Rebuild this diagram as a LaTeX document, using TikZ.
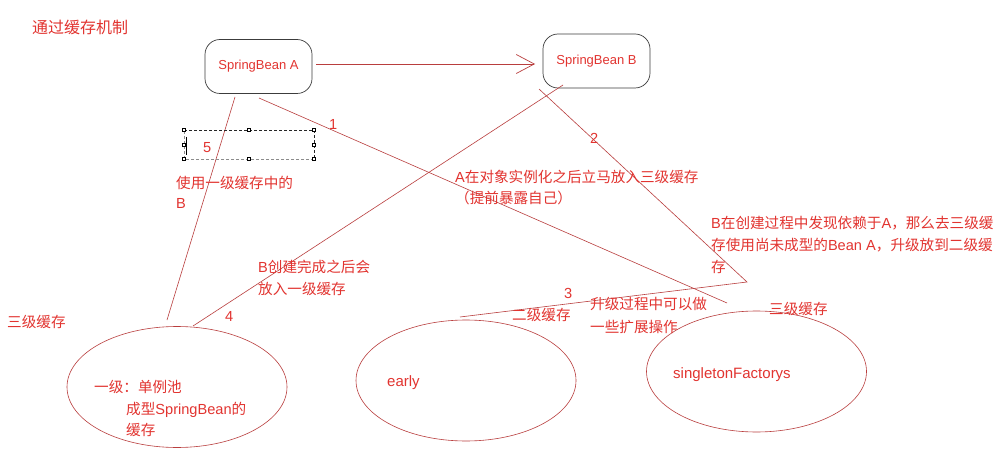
\documentclass[tikz,border=0pt]{standalone}
\usepackage{fontspec}
\setmainfont{Noto Sans CJK SC}
\newfontfamily\lat{Liberation Sans}
\usetikzlibrary{arrows.meta,shapes.geometric}
\definecolor{txt}{RGB}{226,52,48}
\definecolor{ln}{RGB}{185,62,62}
\definecolor{bx}{RGB}{60,60,60}
\begin{document}
\begin{tikzpicture}[x=1pt,y=-1pt,
  lbl/.style={text=txt,font=\fontsize{14.6}{18}\selectfont,anchor=base west,inner sep=0pt},
  num/.style={lbl,font=\lat\fontsize{14.6}{16}\selectfont},
  beanbox/.style={draw=bx,line width=0.7pt,rounded corners=15pt,minimum width=107pt,minimum height=54pt,inner sep=0pt,text=txt,font=\lat\fontsize{13}{15}\selectfont},
  cache/.style={draw=ln,line width=0.6pt,ellipse,minimum width=220pt,minimum height=121pt,inner sep=0pt},
  conn/.style={draw=ln,line width=0.6pt},
  handle/.style={draw=black,fill=white,line width=0.4pt,minimum size=3pt,inner sep=0pt},
  selline/.style={line width=0.5pt,dash pattern=on 3pt off 2pt}
]
\useasboundingbox (0,0) rectangle (1001,465);
\fill[white] (0,0) rectangle (1001,465);

% title
\node[lbl,font=\fontsize{16}{18}\selectfont] (title) at (32,34) {通过缓存机制};

% bean boxes
\node[beanbox] (A) at (258.5,66.5) {SpringBean A};
\node[beanbox] (B) at (596.5,61) {SpringBean B};

% caches
\node[cache] (E1) at (177,387) {};
\node[cache] (E2) at (466,380.5) {};
\node[cache] (E3) at (756.5,371.5) {};

% connector end points
\coordinate (a0) at (316,64);
\coordinate (b0) at (535,64);
\coordinate (a5) at (235,97);
\coordinate (e15) at (167,320);
\coordinate (a1) at (259,98);
\coordinate (e31) at (727,303);
\coordinate (b2) at (539,89);
\coordinate (k2) at (747,282);
\coordinate (e22) at (460,317);
\coordinate (b4) at (563,85);
\coordinate (e14) at (193,326);

% connectors
\draw[conn,-{Straight Barb[length=18pt,width=19pt,line width=0.7pt]}] (a0) -- (b0);
\draw[conn] (a5) -- (e15);
\draw[conn] (a1) -- (e31);
\draw[conn] (b2) -- (k2) -- (e22);
\draw[conn] (b4) -- (e14);

% dashed selection box
\draw[selline,black!85] (184,130) -- (314,130) -- (314,159);
\draw[selline,black!45] (314,159) -- (184,159) -- (184,130);
\foreach \hx/\hy [count=\i] in {184/130,249/130,314/130,184/145,314/145,184/159,249/159,314/159}
  \node[handle] (h\i) at (\hx,\hy) {};
\draw[black,line width=0.8pt] (186.5,137) -- (186.5,155);

% numbers
\node[num] (n1) at (329,130) {1};
\node[num] (n2) at (590,144) {2};
\node[num] (n3) at (564,298) {3};
\node[num] (n4) at (225,321) {4};
\node[num] (n5) at (203,153) {5};

% labels
\node[lbl] (t5a) at (176,189) {使用一级缓存中的};
\node[lbl] (t5b) at (176,208.5) {\lat B};
\node[lbl] (t1a) at (455,183) {{\lat A}在对象实例化之后立马放入三级缓存};
\node[lbl] (t1b) at (455,204) {（提前暴露自己）};
\node[lbl] (t2a) at (711,229) {{\lat B}在创建过程中发现依赖于{\lat A}，那么去三级缓};
\node[lbl] (t2b) at (711,251) {存使用尚未成型的{\lat Bean A}，升级放到二级缓};
\node[lbl] (t2c) at (711,272.5) {存};
\node[lbl] (t4a) at (258,272.5) {{\lat B}创建完成之后会};
\node[lbl] (t4b) at (258,294) {放入一级缓存};
\node[lbl] (l3) at (7,327) {三级缓存};
\node[lbl] (l2) at (512,320) {二级缓存};
\node[lbl] (t3a) at (590,309) {升级过程中可以做};
\node[lbl] (t3b) at (590,332) {一些扩展操作};
\node[lbl] (r3) at (769,314) {三级缓存};
\node[lbl] (e1a) at (94,392) {一级：单例池};
\node[lbl] (e1b) at (126,414) {成型{\lat SpringBean}的};
\node[lbl] (e1c) at (126,435) {缓存};
\node[num,font=\lat\fontsize{15}{17}\selectfont] (e2t) at (387,386.5) {early};
\node[num,font=\lat\fontsize{15}{17}\selectfont] (e3t) at (673,378.5) {singletonFactorys};
\end{tikzpicture}
\end{document}
